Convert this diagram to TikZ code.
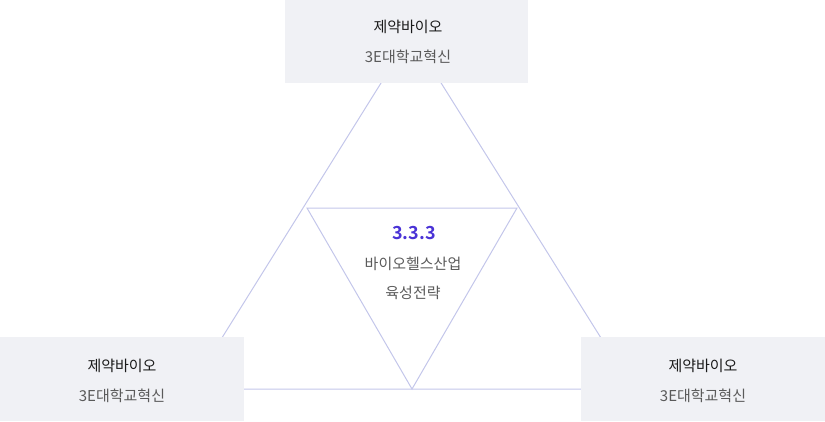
\documentclass[tikz,border=0pt]{standalone}
\usepackage{fontspec}
\setmainfont{Noto Sans CJK KR}
\newfontfamily\krbold{Noto Sans CJK KR Bold}
\definecolor{boxfill}{HTML}{F0F1F5}
\definecolor{linecol}{HTML}{C3C6EA}
\definecolor{titlecol}{HTML}{1A1A1A}
\definecolor{subcol}{HTML}{5A5A5A}
\definecolor{accent}{HTML}{4A33D6}
\begin{document}
\begin{tikzpicture}[x=1pt,y=-1pt,
  sidebox/.style={fill=boxfill,draw=none,inner sep=0pt},
  titletext/.style={font=\fontsize{15}{17}\selectfont,text=titlecol},
  subtext/.style={font=\fontsize{15}{17}\selectfont,text=subcol},
  edge/.style={draw=linecol,line width=1pt}]
\useasboundingbox (0,0) rectangle (825,421);
% outer triangle corners (hidden under boxes)
\coordinate (apex) at (411,35);
\coordinate (bl) at (190,389);
\coordinate (br) at (633,389);
% inner triangle corners
\coordinate (il) at (307,208);
\coordinate (ir) at (517,208);
\coordinate (ib) at (412,389);
\draw[edge] (apex) -- (bl) -- (br) -- cycle;
\draw[edge] (il) -- (ir) -- (ib) -- cycle;
% boxes
\node[sidebox,minimum width=243pt,minimum height=83pt,anchor=north west] (top) at (285,0) {};
\node[sidebox,minimum width=244pt,minimum height=84pt,anchor=north west] (left) at (0,337) {};
\node[sidebox,minimum width=244pt,minimum height=84pt,anchor=north west] (right) at (581,337) {};
% texts
\node[titletext] (t1) at (408,27) {제약바이오};
\node[subtext] (s1) at (408,57) {3E대학교혁신};
\node[titletext] (t2) at (122,366) {제약바이오};
\node[subtext] (s2) at (122,396) {3E대학교혁신};
\node[titletext] (t3) at (703,366) {제약바이오};
\node[subtext] (s3) at (703,396) {3E대학교혁신};
\node[font=\krbold\fontsize{18}{20}\selectfont,text=accent] (c1) at (414,233) {3.3.3};
\node[subtext] (c2) at (413,264) {바이오헬스산업};
\node[subtext] (c3) at (413,293) {육성전략};
\end{tikzpicture}
\end{document}
